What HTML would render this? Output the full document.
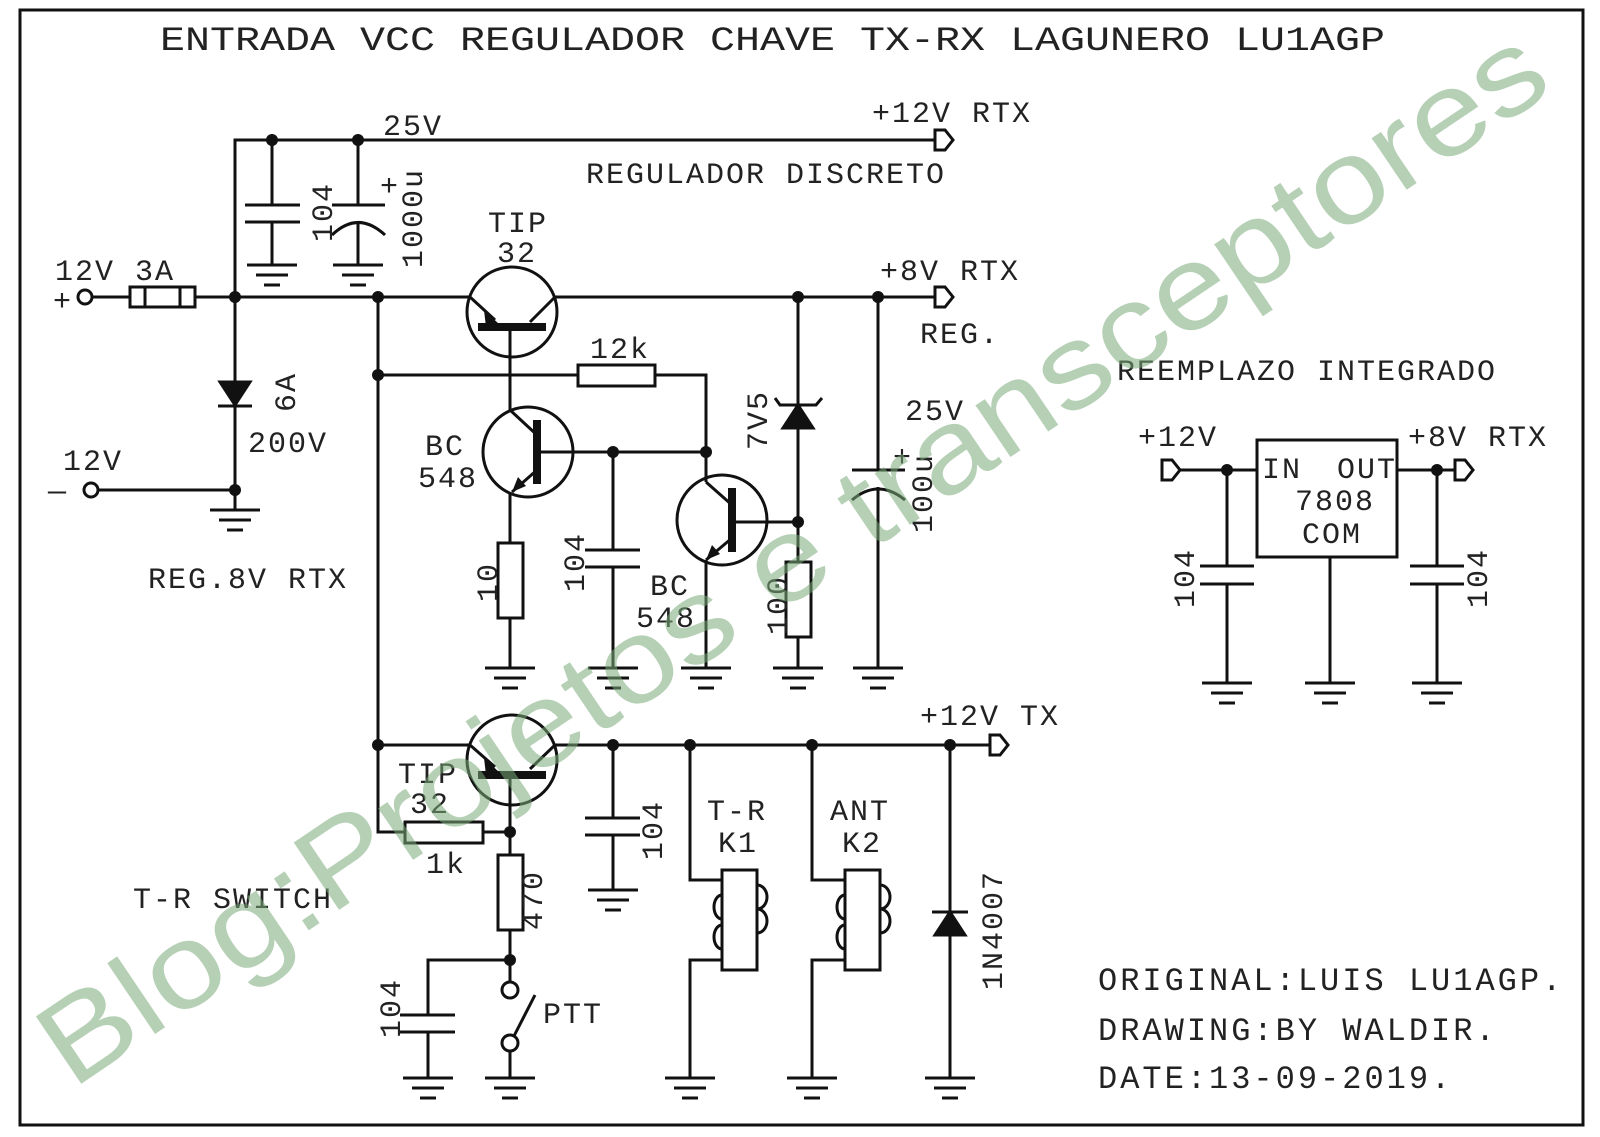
<!DOCTYPE html>
<html><head><meta charset="utf-8"><style>
html,body{margin:0;padding:0;background:#fff}
svg{display:block}
text{font-family:"Liberation Mono",monospace;fill:#222}
</style></head><body>
<svg width="1600" height="1137" viewBox="0 0 1600 1137" xmlns="http://www.w3.org/2000/svg">
<defs>
<g id="gnd" stroke="#111" stroke-width="3"><line x1="-25" y1="0" x2="25" y2="0"/><line x1="-16" y1="10" x2="16" y2="10"/><line x1="-8" y1="20" x2="8" y2="20"/></g>
<g id="dot"><circle r="6" fill="#111"/></g>
</defs>
<rect x="20" y="10" width="1563" height="1115" fill="none" stroke="#111" stroke-width="3"/>
<text x="160" y="50" font-size="34" textLength="1225" lengthAdjust="spacingAndGlyphs">ENTRADA VCC REGULADOR CHAVE TX-RX LAGUNERO LU1AGP</text>

<g stroke="#111" stroke-width="3" fill="none">
<polyline points="235,297 235,140 935,140"/>
<path d="M935,130 L945,130 L953,140 L945,150 L935,150 Z" fill="#fff"/>
<line x1="272" y1="140" x2="272" y2="205"/><line x1="245" y1="205" x2="300" y2="205"/><line x1="245" y1="222" x2="300" y2="222"/><line x1="272" y1="222" x2="272" y2="265"/>
<line x1="358" y1="140" x2="358" y2="205"/><line x1="332" y1="205" x2="385" y2="205"/><path d="M332,235 Q358,210 385,235"/><line x1="358" y1="222" x2="358" y2="265"/>
<line x1="92" y1="297" x2="130" y2="297"/>
<rect x="130" y="287" width="65" height="20"/><rect x="145" y="287" width="35" height="20"/>
<line x1="195" y1="297" x2="470" y2="297"/>
<line x1="555" y1="297" x2="935" y2="297"/>
<path d="M935,287 L945,287 L953,297 L945,307 L935,307 Z" fill="#fff"/>
<circle cx="85" cy="297" r="7" fill="#fff"/>
<line x1="235" y1="297" x2="235" y2="490"/>
<path d="M220,382 L250,382 L235,405 Z" fill="#111"/><line x1="218" y1="406" x2="252" y2="406"/>
<line x1="98" y1="490" x2="235" y2="490"/><circle cx="91" cy="490" r="7" fill="#fff"/>
<line x1="235" y1="490" x2="235" y2="510"/>
<line x1="378" y1="297" x2="378" y2="732"/>
<circle cx="512" cy="312" r="45"/>
<line x1="470" y1="297" x2="495" y2="320"/><line x1="555" y1="297" x2="530" y2="322"/>
<line x1="510" y1="328" x2="510" y2="410"/>
<line x1="378" y1="375" x2="578" y2="375"/><rect x="578" y="365" width="77" height="21"/><polyline points="655,375 706,375 706,452"/>
<circle cx="528" cy="452" r="45"/>
<line x1="510" y1="410" x2="537" y2="435"/><line x1="537" y1="470" x2="512" y2="492"/>
<line x1="540" y1="452" x2="706" y2="452"/>
<line x1="510" y1="492" x2="510" y2="543"/><rect x="498" y="543" width="25" height="75"/><line x1="510" y1="618" x2="510" y2="668"/>
<line x1="613" y1="452" x2="613" y2="550"/><line x1="585" y1="550" x2="640" y2="550"/><line x1="585" y1="567" x2="640" y2="567"/><line x1="613" y1="567" x2="613" y2="668"/>
<circle cx="722" cy="520" r="45"/>
<line x1="706" y1="452" x2="706" y2="482"/><line x1="706" y1="482" x2="732" y2="505"/><line x1="732" y1="538" x2="706" y2="560"/>
<line x1="706" y1="560" x2="706" y2="668"/>
<line x1="735" y1="522" x2="798" y2="522"/>
<line x1="798" y1="297" x2="798" y2="562"/>
<path d="M783,428 L813,428 L798,405 Z" fill="#111"/><polyline points="775,398 780,405 816,405 822,398"/>
<rect x="786" y="562" width="25" height="75"/><line x1="798" y1="637" x2="798" y2="668"/>
<line x1="878" y1="297" x2="878" y2="470"/><line x1="852" y1="470" x2="905" y2="470"/><path d="M852,500 Q878,478 905,500"/><line x1="878" y1="487" x2="878" y2="668"/>

<line x1="378" y1="745" x2="470" y2="745"/>
<line x1="555" y1="745" x2="990" y2="745"/>
<path d="M990,735 L1000,735 L1008,745 L1000,755 L990,755 Z" fill="#fff"/>
<circle cx="512" cy="760" r="45"/>
<line x1="470" y1="745" x2="495" y2="767"/><line x1="555" y1="745" x2="530" y2="769"/>
<line x1="510" y1="775" x2="510" y2="855"/>
<polyline points="378,732 378,832 405,832"/><rect x="405" y="822" width="78" height="21"/><line x1="483" y1="832" x2="510" y2="832"/>
<rect x="498" y="855" width="25" height="75"/><line x1="510" y1="930" x2="510" y2="982"/>
<circle cx="510" cy="990" r="8" fill="#fff"/><circle cx="510" cy="1043" r="8" fill="#fff"/><line x1="514" y1="1036" x2="535" y2="995"/><line x1="510" y1="1051" x2="510" y2="1078"/>
<polyline points="510,960 428,960 428,1015"/><line x1="400" y1="1015" x2="455" y2="1015"/><line x1="400" y1="1032" x2="455" y2="1032"/><line x1="428" y1="1032" x2="428" y2="1078"/>
<line x1="613" y1="745" x2="613" y2="818"/><line x1="585" y1="818" x2="640" y2="818"/><line x1="585" y1="835" x2="640" y2="835"/><line x1="613" y1="835" x2="613" y2="890"/>
<polyline points="690,745 690,880 722,880"/><rect x="722" y="870" width="35" height="100"/><path d="M757,885 a10,12 0 1 1 0,24 a10,12 0 1 1 0,24 M722,895 a8,12 0 0 0 0,24 M722,925 a8,12 0 0 0 0,24"/><polyline points="722,960 690,960 690,1078"/>
<polyline points="812,745 812,880 845,880"/><rect x="845" y="870" width="35" height="100"/><path d="M880,885 a10,12 0 1 1 0,24 a10,12 0 1 1 0,24 M845,895 a8,12 0 0 0 0,24 M845,925 a8,12 0 0 0 0,24"/><polyline points="845,960 812,960 812,1078"/>
<line x1="950" y1="745" x2="950" y2="1078"/><path d="M935,935 L965,935 L950,912 Z" fill="#111"/><line x1="932" y1="912" x2="968" y2="912"/>

<path d="M1162,460 L1172,460 L1180,470 L1172,480 L1162,480 Z" fill="#fff"/>
<line x1="1180" y1="470" x2="1257" y2="470"/>
<rect x="1257" y="440" width="140" height="117"/>
<line x1="1397" y1="470" x2="1455" y2="470"/>
<path d="M1455,460 L1465,460 L1473,470 L1465,480 L1455,480 Z" fill="#fff"/>
<line x1="1227" y1="470" x2="1227" y2="566"/><line x1="1200" y1="566" x2="1254" y2="566"/><line x1="1200" y1="584" x2="1254" y2="584"/><line x1="1227" y1="584" x2="1227" y2="683"/>
<line x1="1437" y1="470" x2="1437" y2="566"/><line x1="1410" y1="566" x2="1464" y2="566"/><line x1="1410" y1="584" x2="1464" y2="584"/><line x1="1437" y1="584" x2="1437" y2="683"/>
<line x1="1330" y1="557" x2="1330" y2="683"/>
</g>
<g fill="#111">
<rect x="478" y="323" width="68" height="8"/>
<rect x="533" y="420" width="8" height="64"/>
<rect x="728" y="488" width="8" height="64"/>
<rect x="478" y="771" width="68" height="8"/>
<path d="M484,310 L499,324 L486,327 Z"/><path d="M484,758 L499,772 L486,775 Z"/>
<path d="M512,492 L518,477 L526,486 Z"/><path d="M706,560 L712,545 L720,554 Z"/>
</g>
<g>
<use href="#dot" x="272" y="140"/><use href="#dot" x="358" y="140"/><use href="#dot" x="235" y="297"/><use href="#dot" x="378" y="297"/>
<use href="#dot" x="798" y="297"/><use href="#dot" x="878" y="297"/><use href="#dot" x="378" y="375"/><use href="#dot" x="613" y="452"/><use href="#dot" x="706" y="452"/>
<use href="#dot" x="798" y="522"/><use href="#dot" x="235" y="490"/>
<use href="#dot" x="378" y="745"/><use href="#dot" x="613" y="745"/><use href="#dot" x="690" y="745"/><use href="#dot" x="812" y="745"/><use href="#dot" x="950" y="745"/>
<use href="#dot" x="510" y="832"/><use href="#dot" x="510" y="960"/>
<use href="#dot" x="1227" y="470"/><use href="#dot" x="1437" y="470"/>
</g>
<g>
<use href="#gnd" x="272" y="265"/><use href="#gnd" x="358" y="265"/><use href="#gnd" x="235" y="510"/>
<use href="#gnd" x="510" y="668"/><use href="#gnd" x="613" y="668"/><use href="#gnd" x="706" y="668"/><use href="#gnd" x="798" y="668"/><use href="#gnd" x="878" y="668"/>
<use href="#gnd" x="613" y="890"/><use href="#gnd" x="428" y="1078"/><use href="#gnd" x="510" y="1078"/><use href="#gnd" x="690" y="1078"/><use href="#gnd" x="812" y="1078"/><use href="#gnd" x="950" y="1078"/>
<use href="#gnd" x="1227" y="683"/><use href="#gnd" x="1330" y="683"/><use href="#gnd" x="1437" y="683"/>
</g>
<g font-size="30" letter-spacing="2">
<text x="872" y="122">+12V RTX</text>
<text x="383" y="135">25V</text>
<text x="586" y="183">REGULADOR DISCRETO</text>
<text x="488" y="232">TIP</text><text x="497" y="262">32</text>
<text x="55" y="280">12V 3A</text><text x="53" y="310">+</text>
<text x="880" y="280">+8V RTX</text><text x="920" y="343">REG.</text>
<text x="590" y="358">12k</text>
<text x="248" y="452">200V</text>
<text x="63" y="470">12V</text><text x="48" y="500">—</text>
<text x="425" y="455">BC</text><text x="418" y="487">548</text>
<text x="650" y="595">BC</text><text x="636" y="627">548</text>
<text x="905" y="420">25V</text><text x="893" y="466">+</text><text x="380" y="195">+</text>
<text x="148" y="588">REG.8V RTX</text>
<text x="1117" y="380">REEMPLAZO INTEGRADO</text>
<text x="1138" y="446">+12V</text><text x="1408" y="446">+8V RTX</text>
<text x="1262" y="478">IN</text><text x="1337" y="478">OUT</text>
<text x="1295" y="510">7808</text><text x="1302" y="543">COM</text>
<text x="920" y="725">+12V TX</text>
<text x="398" y="783">TIP</text><text x="410" y="813">32</text>
<text x="426" y="873">1k</text>
<text x="133" y="908">T-R SWITCH</text>
<text x="707" y="820">T-R</text><text x="718" y="852">K1</text>
<text x="830" y="820">ANT</text><text x="842" y="852">K2</text>
<text x="543" y="1023">PTT</text>
</g>
<g font-size="32" letter-spacing="3">
<text x="1098" y="990">ORIGINAL:LUIS LU1AGP.</text>
<text x="1098" y="1040">DRAWING:BY WALDIR.</text>
<text x="1098" y="1088">DATE:13-09-2019.</text>
</g>
<g font-size="30" letter-spacing="2">
<text transform="translate(332,242) rotate(-90)">104</text>
<text transform="translate(422,268) rotate(-90)">1000u</text>
<text transform="translate(295,412) rotate(-90)">6A</text>
<text transform="translate(767,450) rotate(-90)">7V5</text>
<text transform="translate(932,533) rotate(-90)">100u</text>
<text transform="translate(497,602) rotate(-90)">10</text>
<text transform="translate(584,592) rotate(-90)">104</text>
<text transform="translate(787,635) rotate(-90)">100</text>
<text transform="translate(662,860) rotate(-90)">104</text>
<text transform="translate(542,930) rotate(-90)">470</text>
<text transform="translate(400,1038) rotate(-90)">104</text>
<text transform="translate(1002,990) rotate(-90)">1N4007</text>
<text transform="translate(1194,608) rotate(-90)">104</text>
<text transform="translate(1487,608) rotate(-90)">104</text>
</g>
<text transform="translate(72,1090) rotate(-34)" font-size="118" style="font-family:'Liberation Sans',sans-serif;fill:rgba(120,170,120,0.55)" textLength="1790" lengthAdjust="spacingAndGlyphs">Blog:Projetos e transceptores</text>
</svg>
</body></html>
